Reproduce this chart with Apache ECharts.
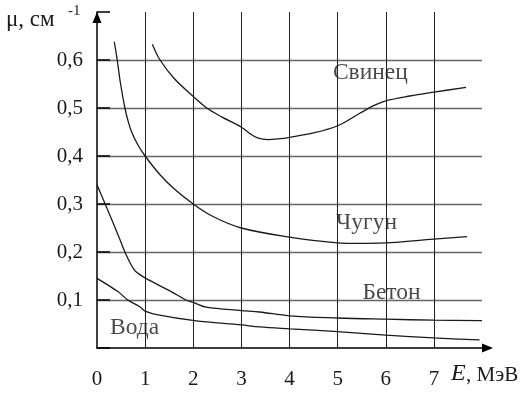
<!DOCTYPE html>
<html><head><meta charset="utf-8">
<script src="https://cdn.jsdelivr.net/npm/echarts@6/dist/echarts.min.js"></script>
<style>html,body{margin:0;padding:0;background:#fff}#c{width:524px;height:393px}</style>
</head><body><div id="c"></div>
<script>
// ---- data ----
const xTickLabels = ['0','1','2','3','4','5','6','7'];
const yTickLabels = ['0,1','0,2','0,3','0,4','0,5','0,6'];

const leadE  = [1.15, 1.31, 1.6, 2.0, 2.28, 2.6, 3.0, 3.2, 3.35, 3.55, 3.8, 4.0, 4.5, 5.0, 5.46, 5.77, 6.0, 6.5, 7.0, 7.67];
const leadMu = [0.633, 0.6, 0.562, 0.524, 0.5, 0.481, 0.46, 0.445, 0.437, 0.434, 0.436, 0.439, 0.448, 0.463, 0.489, 0.506, 0.515, 0.525, 0.533, 0.543];

const ironE  = [0.36, 0.42, 0.49, 0.58, 0.64, 0.72, 0.85, 1.0, 1.3, 1.62, 2.0, 2.41, 3.0, 4.0, 5.0, 5.32, 6.0, 7.0, 7.69];
const ironMu = [0.638, 0.6, 0.55, 0.5, 0.475, 0.45, 0.423, 0.4, 0.362, 0.33, 0.3, 0.274, 0.25, 0.231, 0.219, 0.218, 0.219, 0.227, 0.232];

const concreteE  = [0, 0.17, 0.4, 0.58, 0.7, 0.8, 1.0, 1.55, 1.85, 2.0, 2.27, 3.0, 3.38, 4.0, 5.0, 6.0, 7.0, 8.0];
const concreteMu = [0.34, 0.3, 0.245, 0.2, 0.175, 0.16, 0.146, 0.117, 0.1, 0.095, 0.085, 0.078, 0.075, 0.067, 0.0625, 0.06, 0.058, 0.057];

const waterE  = [0, 0.44, 0.64, 0.89, 1.0, 1.27, 2.03, 3.0, 3.38, 4.0, 5.0, 6.0, 7.0, 7.95];
const waterMu = [0.145, 0.117, 0.1, 0.086, 0.077, 0.069, 0.057, 0.048, 0.044, 0.04, 0.034, 0.027, 0.021, 0.017];

const curveNames = ['Свинец', 'Чугун', 'Бетон', 'Вода'];
const labelE  = [5.68, 5.6, 6.12, 0.78];
const labelMu = [0.573, 0.26, 0.115, 0.042];

// ---- build ----
const zip = (a, b) => a.map((v, i) => [v, b[i]]);
const serif = '"Liberation Serif", "Times New Roman", serif';
const ink = '#1a1a1a';

function curve(name, e, mu) {
  return {
    name, type: 'line', data: zip(e, mu), showSymbol: false, smooth: 0.35,
    lineStyle: { color: ink, width: 1.3 }, silent: true, animation: false
  };
}

const chart = echarts.init(document.getElementById('c'), null, { renderer: 'canvas' });
chart.setOption({
  animation: false,
  grid: { left: 97, right: 42, top: 12, bottom: 45, outerBoundsMode: 'none', containLabel: false },
  xAxis: {
    type: 'value', min: 0, max: 8, interval: 1,
    axisLine: { show: true, onZero: false, lineStyle: { color: '#000', width: 1.5 },
      symbol: ['none', 'triangle'], symbolSize: [9, 11], symbolOffset: [0, 5.5] },
    axisTick: { show: false },
    axisLabel: { color: ink, fontFamily: serif, fontSize: 21, margin: 21,
      formatter: (v) => xTickLabels[Math.round(v)] !== undefined ? xTickLabels[Math.round(v)] : '' },
    splitLine: { show: true, showMinLine: false, showMaxLine: false, lineStyle: { color: '#222', width: 1 } }
  },
  yAxis: {
    type: 'value', min: 0, max: 0.7, interval: 0.1,
    axisLine: { show: true, onZero: false, lineStyle: { color: '#000', width: 1.5 },
      symbol: ['none', 'triangle'], symbolSize: [9, 11], symbolOffset: [0, -5.5] },
    axisTick: { show: true, inside: true, length: 13, lineStyle: { color: '#000', width: 1.5 } },
    axisLabel: { color: ink, fontFamily: serif, fontSize: 21, margin: 14,
      formatter: (v) => { const i = Math.round(v * 10); return (i >= 1 && i <= yTickLabels.length) ? yTickLabels[i - 1] : ''; } },
    splitLine: { show: true, showMinLine: false, showMaxLine: false, lineStyle: { color: '#666', width: 1.3 } }
  },
  series: [
    curve('Свинец', leadE, leadMu),
    curve('Чугун', ironE, ironMu),
    curve('Бетон', concreteE, concreteMu),
    curve('Вода', waterE, waterMu),
    {
      type: 'scatter', symbolSize: 0, silent: true,
      data: labelE.map((e, i) => ({ value: [e, labelMu[i]], name: curveNames[i] })),
      label: { show: true, position: 'inside', formatter: (p) => p.name,
        color: ink, fontFamily: serif, fontSize: 23.5 },
      z: 5
    }
  ],
  graphic: [
    { type: 'text', x: 6, y: 20, style: { text: 'μ, см', font: '23px ' + serif, fill: ink, align: 'left', verticalAlign: 'middle' } },
    { type: 'text', x: 68, y: 11, style: { text: '-1', font: '15px ' + serif, fill: ink, align: 'left', verticalAlign: 'middle' } },
    { type: 'text', x: 451, y: 374, style: { text: 'E', font: 'italic 24px ' + serif, fill: ink, align: 'left', verticalAlign: 'middle' } },
    { type: 'text', x: 466, y: 375, style: { text: ', МэВ', font: '21px ' + serif, fill: ink, align: 'left', verticalAlign: 'middle' } }
  ]
});
</script></body></html>
